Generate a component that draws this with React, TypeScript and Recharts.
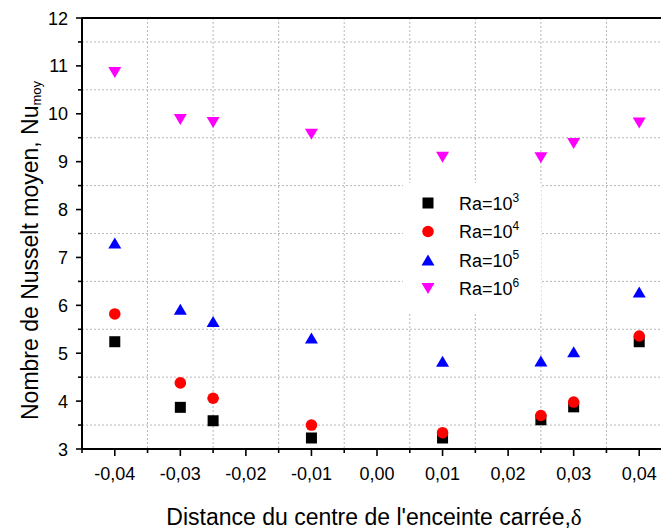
import React from 'react';
import { ScatterChart, Scatter, XAxis, YAxis, CartesianGrid } from 'recharts';

// offset from the enclosure centre (delta) and mean Nusselt number per Rayleigh number
const delta = [-0.04, -0.03, -0.025, -0.01, 0.01, 0.025, 0.03, 0.04];
const nuRa3 = [5.24, 3.87, 3.59, 3.23, 3.23, 3.61, 3.88, 5.24];
const nuRa4 = [5.82, 4.38, 4.06, 3.5, 3.34, 3.7, 3.98, 5.36];
const nuRa5 = [7.3, 5.92, 5.66, 5.32, 4.83, 4.84, 5.03, 6.28];
const nuRa6 = [10.86, 9.88, 9.82, 9.57, 9.09, 9.08, 9.38, 9.81];

const xMajor = [-0.04, -0.03, -0.02, -0.01, 0, 0.01, 0.02, 0.03, 0.04];
const xMinor = [-0.035, -0.025, -0.015, -0.005, 0.005, 0.015, 0.025, 0.035];
const yMajor = [3, 4, 5, 6, 7, 8, 9, 10, 11, 12];
const yMinor = [3.5, 4.5, 5.5, 6.5, 7.5, 8.5, 9.5, 10.5, 11.5];

const FONT = '"Liberation Sans", Arial, sans-serif';

// plot frame
const CHART_W = 682;
const CHART_H = 532;
const LEFT = 82;
const TOP = 18;
const BOTTOM_H = 83;
const RIGHT = 10;
const PLOT_H = CHART_H - TOP - BOTTOM_H;
const PLOT_W = CHART_W - LEFT - RIGHT;

type Kind = 'square' | 'circle' | 'up' | 'down';

const series: { exp: string; values: number[]; color: string; kind: Kind }[] = [
  { exp: '3', values: nuRa3, color: '#000000', kind: 'square' },
  { exp: '4', values: nuRa4, color: '#ff0000', kind: 'circle' },
  { exp: '5', values: nuRa5, color: '#0000ff', kind: 'up' },
  { exp: '6', values: nuRa6, color: '#ff00ff', kind: 'down' },
];

const isMajor = (list: number[], v: number) => list.some((m) => Math.abs(m - v) < 1e-9);

const Symbol = ({ kind, cx, cy, color }: { kind: Kind; cx: number; cy: number; color: string }) => {
  if (kind === 'square') return <rect x={cx - 5.5} y={cy - 5.5} width={11} height={11} fill={color} />;
  if (kind === 'circle') return <circle cx={cx} cy={cy} r={5.8} fill={color} />;
  if (kind === 'up')
    return <polygon points={`${cx},${cy - 5.5} ${cx + 6.5},${cy + 5.5} ${cx - 6.5},${cy + 5.5}`} fill={color} />;
  return <polygon points={`${cx - 6.5},${cy - 5.5} ${cx + 6.5},${cy - 5.5} ${cx},${cy + 5.5}`} fill={color} />;
};

const fmt = (v: number) => v.toFixed(2).replace('.', ',');

const XTick = (props: any) => {
  const { x, y, payload } = props;
  const major = isMajor(xMajor, payload.value);
  return (
    <g>
      <line x1={x} y1={y} x2={x} y2={y + (major ? 7 : 4)} stroke="#000" strokeWidth={1.6} />
      {major && (
        <text x={x} y={y + 31} textAnchor="middle" fontSize={18} fontFamily={FONT} fill="#000">
          {fmt(payload.value)}
        </text>
      )}
    </g>
  );
};

const TopTick = (props: any) => {
  const { x, y } = props;
  return <line x1={x} y1={y} x2={x} y2={y + 3} stroke="#000" strokeWidth={1.4} />;
};

const YTick = (props: any) => {
  const { x, y, payload } = props;
  const major = isMajor(yMajor, payload.value);
  return (
    <g>
      <line x1={x} y1={y} x2={x - (major ? 6 : 4)} y2={y} stroke="#000" strokeWidth={1.6} />
      {major && (
        <text x={x - 14} y={y + 6.5} textAnchor="end" fontSize={18} fontFamily={FONT} fill="#000">
          {payload.value}
        </text>
      )}
    </g>
  );
};

const YTitle = () => {
  const cx = LEFT - 52;
  const cy = TOP + PLOT_H / 2 + 17;
  return (
    <text
      x={cx}
      y={cy}
      transform={`rotate(-90, ${cx}, ${cy})`}
      textAnchor="middle"
      dominantBaseline="central"
      fontSize={23}
      fontFamily={FONT}
      fill="#000"
    >
      Nombre de Nusselt moyen, Nu
      <tspan fontSize={13} dy={6}>moy</tspan>
    </text>
  );
};

const XTitle = () => (
  <text
    x={LEFT + PLOT_W / 2 - 3}
    y={TOP + PLOT_H + 76}
    textAnchor="middle"
    fontSize={23}
    fontFamily={FONT}
    fill="#000"
  >
    Distance du centre de l'enceinte carrée,
    <tspan fontFamily='"Liberation Serif", serif'>δ</tspan>
  </text>
);

const Legend = () => (
  <div style={{ position: 'absolute', left: 403, top: 183, width: 138, height: 130, background: '#fff' }}>
    <svg width={138} height={130} style={{ display: 'block' }}>
      {series.map((s, i) => {
        const cy = 20 + i * 28.5;
        return (
          <g key={s.exp}>
            <Symbol kind={s.kind} cx={25} cy={cy} color={s.color} />
            <text x={56} y={cy + 6.5} fontSize={18} fontFamily={FONT} fill="#000">
              Ra=10
              <tspan fontSize={12} dy={-8}>{s.exp}</tspan>
            </text>
          </g>
        );
      })}
    </svg>
  </div>
);

export default function App() {
  const xTicks = [...xMajor, ...xMinor, -0.045, 0.045].sort((a, b) => a - b);
  const yTicks = [...yMajor, ...yMinor].sort((a, b) => a - b);
  const topTicks = [...xMajor, ...xMinor].sort((a, b) => a - b);

  return (
    <div
      style={{
        position: 'absolute',
        left: 0,
        top: 0,
        width: 661,
        height: 532,
        overflow: 'hidden',
        background: '#fff',
      }}
    >
      <ScatterChart width={CHART_W} height={CHART_H} margin={{ top: 0, right: RIGHT, bottom: 0, left: 0 }}>
        <CartesianGrid
          stroke="#b8b8b8"
          strokeDasharray="2 2"
          horizontalValues={yMinor}
          verticalValues={xMinor}
        />
        <XAxis
          type="number"
          dataKey="x"
          domain={[-0.045, 0.045]}
          allowDataOverflow
          ticks={xTicks}
          interval={0}
          height={BOTTOM_H}
          tickSize={0}
          tickMargin={0}
          tickLine={false}
          tick={<XTick />}
          axisLine={{ stroke: '#000', strokeWidth: 2 }}
          label={<XTitle />}
        />
        <XAxis
          xAxisId="top"
          orientation="top"
          type="number"
          domain={[-0.045, 0.045]}
          allowDataOverflow
          ticks={topTicks}
          interval={0}
          height={TOP}
          tickSize={0}
          tickMargin={0}
          tickLine={false}
          tick={<TopTick />}
          axisLine={{ stroke: '#000', strokeWidth: 2 }}
        />
        <YAxis
          type="number"
          dataKey="y"
          domain={[3, 12]}
          allowDataOverflow
          ticks={yTicks}
          interval={0}
          width={LEFT}
          tickSize={0}
          tickMargin={0}
          tickLine={false}
          tick={<YTick />}
          axisLine={{ stroke: '#000', strokeWidth: 2 }}
          label={<YTitle />}
        />
        {series.map((s) => (
          <Scatter
            key={s.exp}
            name={`Ra=10^${s.exp}`}
            data={delta.map((d, i) => ({ x: d, y: s.values[i] }))}
            fill={s.color}
            isAnimationActive={false}
            shape={(p: any) => <Symbol kind={s.kind} cx={p.cx} cy={p.cy} color={s.color} />}
          />
        ))}
      </ScatterChart>
      <Legend />
    </div>
  );
}
